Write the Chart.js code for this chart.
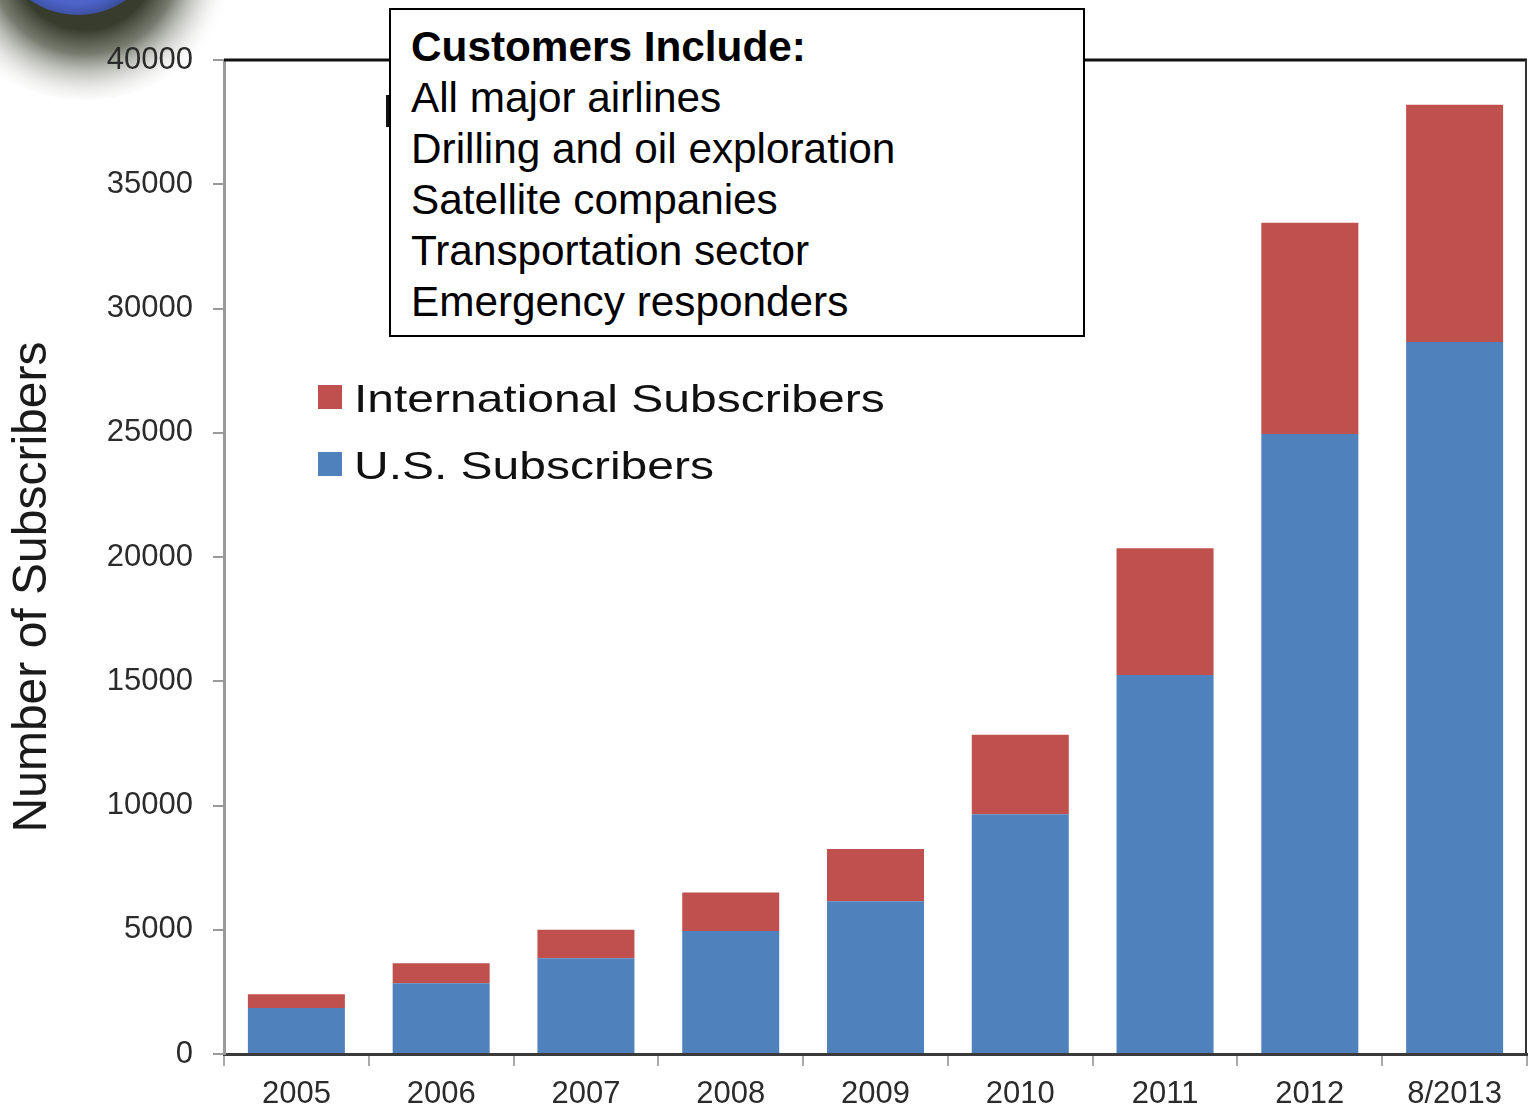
<!DOCTYPE html>
<html>
<head>
<meta charset="utf-8">
<script src="https://cdn.jsdelivr.net/npm/chart.js@4"></script>
<style>
  html, body { margin: 0; padding: 0; background: #fff; }
  #wrap { position: relative; width: 1528px; height: 1110px; overflow: hidden; }
  #c { position: absolute; left: 0; top: 0; }
  #box {
    position: absolute; left: 389px; top: 8px; width: 672px; height: 314px;
    border: 2px solid #000; background: #fff;
    font-family: "Liberation Sans", Arial, sans-serif; font-size: 42.3px; line-height: 51px;
    color: #000; padding: 11px 0 0 20px; box-sizing: content-box;
  }
  #box div { white-space: nowrap; }
  #box .hd { font-weight: bold; }
  #frag { position: absolute; left: 386px; top: 95px; width: 4px; height: 32px; background: #111; }
</style>
</head>
<body>
<div id="wrap">
  <canvas id="c" width="1528" height="1110"></canvas>
  <div id="frag"></div>
  <div id="box"></div>
</div>
<script>
// ---- data ----
const categories = ["2005", "2006", "2007", "2008", "2009", "2010", "2011", "2012", "8/2013"];
const usSubscribers = [1850, 2850, 3850, 4950, 6150, 9650, 15250, 24950, 28650];
const intlSubscribers = [550, 800, 1150, 1550, 2100, 3200, 5100, 8500, 9550];
const yTicks = [0, 5000, 10000, 15000, 20000, 25000, 30000, 35000, 40000];
const boxTitle = "Customers Include:";
const boxLines = ["All major airlines", "Drilling and oil exploration", "Satellite companies", "Transportation sector", "Emergency responders"];
const yTitle = "Number of Subscribers";

// ---- text box ----
const box = document.getElementById('box');
const hd = document.createElement('div'); hd.className = 'hd'; hd.textContent = boxTitle; box.appendChild(hd);
boxLines.forEach(t => { const d = document.createElement('div'); d.textContent = t; box.appendChild(d); });

const FONT = '"Liberation Sans", Arial, sans-serif';

// decorative logo fragment + frame + legend + axis title
const decor = {
  id: 'decor',
  beforeDraw(chart) {
    const ctx = chart.ctx;
    ctx.save();
    // shadow
    const g = ctx.createRadialGradient(85, -40, 70, 85, -40, 150);
    g.addColorStop(0, 'rgba(55,60,45,1)');
    g.addColorStop(0.3, 'rgba(95,100,85,0.85)');
    g.addColorStop(0.65, 'rgba(170,172,165,0.4)');
    g.addColorStop(1, 'rgba(255,255,255,0)');
    ctx.fillStyle = g;
    ctx.beginPath(); ctx.ellipse(85, -40, 150, 140, 0, 0, Math.PI * 2); ctx.fill();
    // blue disk
    const b = ctx.createRadialGradient(75, -60, 10, 75, -60, 82);
    b.addColorStop(0, '#7088e0');
    b.addColorStop(0.75, '#4d63c8');
    b.addColorStop(1, '#34468f');
    ctx.fillStyle = b;
    ctx.beginPath(); ctx.ellipse(78, -60, 80, 75, 0, 0, Math.PI * 2); ctx.fill();
    ctx.restore();
  },
  afterDraw(chart) {
    const ctx = chart.ctx;
    const a = chart.chartArea;
    ctx.save();
    ctx.strokeStyle = '#111';
    ctx.lineWidth = 3;
    ctx.beginPath(); ctx.moveTo(a.left, a.top); ctx.lineTo(a.right, a.top); ctx.stroke();
    ctx.strokeStyle = '#333';
    ctx.lineWidth = 2;
    ctx.beginPath(); ctx.moveTo(a.right - 1, a.top); ctx.lineTo(a.right - 1, a.bottom); ctx.stroke();
    // y axis title
    ctx.save();
    ctx.translate(33, 587);
    ctx.rotate(-Math.PI / 2);
    ctx.fillStyle = '#1a1a1a';
    ctx.font = '48px ' + FONT;
    ctx.textAlign = 'center';
    ctx.textBaseline = 'middle';
    ctx.fillText(yTitle, 0, 0);
    ctx.restore();
    // legend (International on top, U.S. below)
    const order = [1, 0];
    const ys = [397, 464];
    order.forEach((di, i) => {
      const ds = chart.data.datasets[di];
      ctx.fillStyle = ds.backgroundColor;
      ctx.fillRect(318, ys[i] - 12, 24, 24);
      ctx.fillStyle = '#111';
      ctx.font = '39px ' + FONT;
      ctx.textBaseline = 'alphabetic';
      ctx.textAlign = 'left';
      ctx.save();
      ctx.translate(354, ys[i] + 15);
      ctx.scale(1.23, 1);
      ctx.fillText(ds.label, 0, 0);
      ctx.restore();
    });
    ctx.restore();
  }
};

new Chart(document.getElementById('c'), {
  type: 'bar',
  data: {
    labels: categories,
    datasets: [
      { label: 'U.S. Subscribers', data: usSubscribers, backgroundColor: '#4F81BD', borderWidth: 0, barPercentage: 0.67, categoryPercentage: 1 },
      { label: 'International Subscribers', data: intlSubscribers, backgroundColor: '#C0504D', borderWidth: 0, barPercentage: 0.67, categoryPercentage: 1 }
    ]
  },
  options: {
    responsive: false,
    animation: false,
    devicePixelRatio: 1,
    layout: { padding: { top: 60, right: 1, left: 0, bottom: 0 } },
    plugins: { legend: { display: false }, tooltip: { enabled: false } },
    scales: {
      x: {
        stacked: true,
        offset: true,
        afterFit(scale) { scale.height = 56; },
        grid: { display: true, offset: true, drawOnChartArea: false, drawTicks: true, tickLength: 12, color: '#aaa', lineWidth: 2 },
        border: { display: true, color: '#3a3a3a', width: 3 },
        ticks: { color: '#2b2b2b', font: { family: FONT, size: 31 }, padding: 10, maxRotation: 0, autoSkip: false }
      },
      y: {
        stacked: true,
        min: 0, max: 40000,
        afterBuildTicks(scale) { scale.ticks = yTicks.map(v => ({ value: v })); },
        afterFit(scale) { scale.width = 224; },
        grid: { display: true, drawOnChartArea: false, drawTicks: true, tickLength: 11, color: '#999', lineWidth: 2 },
        border: { display: true, color: '#999', width: 3 },
        ticks: { color: '#2b2b2b', font: { family: FONT, size: 31 }, padding: 20, callback: v => String(v) },
        title: { display: false, text: yTitle }
      }
    }
  },
  plugins: [decor]
});
</script>
</body>
</html>
